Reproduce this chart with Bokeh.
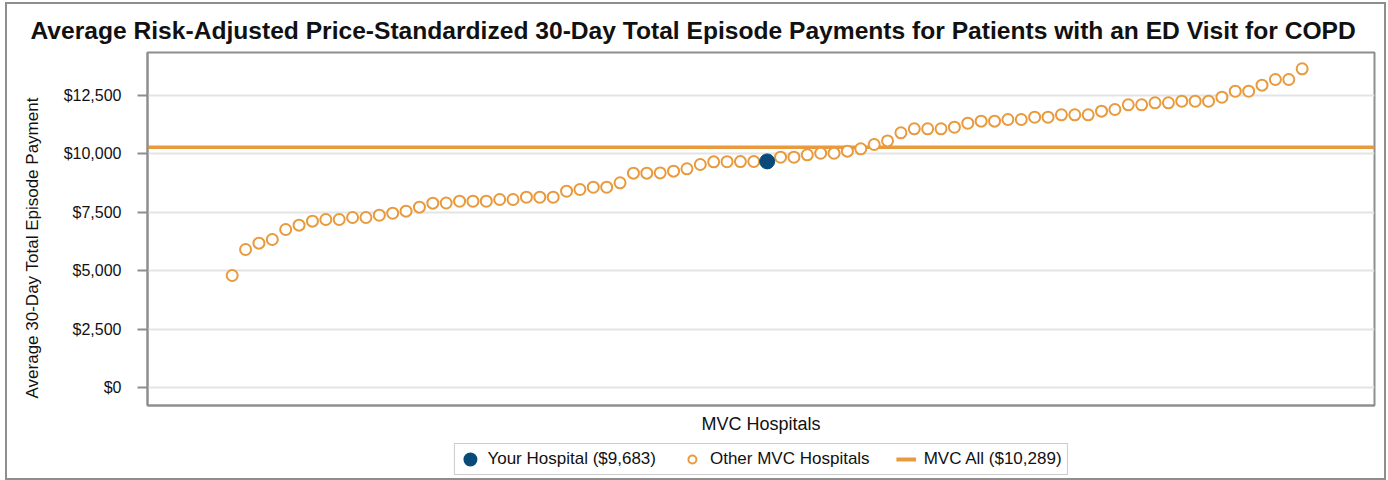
from bokeh.plotting import figure
from bokeh.layouts import column
from bokeh.models import Range1d, FixedTicker, NumeralTickFormatter, Legend, LegendItem
from bokeh.embed import file_html
from bokeh.resources import INLINE

title_text = ("Average Risk-Adjusted Price-Standardized 30-Day Total Episode Payments "
              "for Patients with an ED Visit for COPD")
y_axis_title = "Average 30-Day Total Episode Payment"
x_axis_title = "MVC Hospitals"
your_hospital_label = "Your Hospital ($9,683)"
other_label = "Other MVC Hospitals"
mvc_all_label = "MVC All ($10,289)"

# hospitals ranked 1..81 by payment; "your hospital" is rank 41
other_hospital_payments = [
    4803, 5915, 6185, 6343, 6771, 6955, 7126, 7198, 7198, 7284,
    7284, 7382, 7468, 7554, 7725, 7896, 7905, 7981, 7981, 7981,
    8054, 8054, 8152, 8152, 8152, 8409, 8482, 8580, 8580, 8768,
    9179, 9179, 9190, 9265, 9367, 9551, 9665, 9670, 9675, 9680,
    9863, 9863, 9966, 10034, 10034, 10120, 10222, 10406, 10560, 10907,
    11078, 11078, 11078, 11146, 11317, 11403, 11403, 11476, 11476, 11574,
    11574, 11677, 11677, 11677, 11831, 11903, 12104, 12104, 12190, 12190,
    12258, 12258, 12258, 12429, 12686, 12686, 12943, 13187, 13187, 13644,
]
your_hospital_payment = 9683
your_hospital_rank = 41
mvc_all_payment = 10289
y_ticks = [0, 2500, 5000, 7500, 10000, 12500]

n_hospitals = len(other_hospital_payments) + 1
other_ranks = [r for r in range(1, n_hospitals + 1) if r != your_hospital_rank]

ORANGE = "#E99A3C"
BLUE = "#0A4A78"
AXIS_GRAY = "#8e8e8e"
TEXT = "#111111"
FONT = "Liberation Sans"
W = 1377
NBSP = "\u00a0"

x_rng = Range1d(-5.333, 86.41)

# ---------------- main chart ----------------
p = figure(width=W, height=435, output_backend="svg", toolbar_location=None, tools="",
           x_range=x_rng, y_range=Range1d(-757, 14341),
           min_border_left=140, min_border_right=10, min_border_top=48, min_border_bottom=34)
p.background_fill_color = "white"
p.border_fill_color = "white"
p.outline_line_color = AXIS_GRAY
p.outline_line_width = 2

p.title.text = title_text
p.title.align = "left"
p.title.offset = -117
p.title.standoff = 18
p.title.text_font = FONT
p.title.text_font_size = "24.6px"
p.title.text_font_style = "bold"
p.title.text_color = TEXT

# y axis
p.yaxis.ticker = FixedTicker(ticks=y_ticks)
p.yaxis.formatter = NumeralTickFormatter(format="$0,0")
p.yaxis.major_label_text_font = FONT
p.yaxis.major_label_text_font_size = "16px"
p.yaxis.major_label_text_color = TEXT
p.yaxis.major_tick_out = 10
p.yaxis.major_tick_in = 0
p.yaxis.minor_tick_out = 0
p.yaxis.minor_tick_in = 0
p.yaxis.major_label_standoff = 16
p.yaxis.axis_line_color = AXIS_GRAY
p.yaxis.axis_line_width = 2
p.yaxis.major_tick_line_color = AXIS_GRAY
p.yaxis.major_tick_line_width = 2
p.yaxis.axis_label = y_axis_title + NBSP * 8
p.yaxis.axis_label_text_font = FONT
p.yaxis.axis_label_text_font_size = "17px"
p.yaxis.axis_label_text_font_style = "normal"
p.yaxis.axis_label_text_color = TEXT
p.yaxis.axis_label_standoff = 19

# x axis
p.xaxis.ticker = FixedTicker(ticks=[])
p.xaxis.major_tick_out = 0
p.xaxis.major_tick_in = 0
p.xaxis.minor_tick_out = 0
p.xaxis.minor_tick_in = 0
p.xaxis.major_label_standoff = 0
p.xaxis.axis_line_color = AXIS_GRAY
p.xaxis.axis_line_width = 2
p.xaxis.axis_label = x_axis_title
p.xaxis.axis_label_text_font = FONT
p.xaxis.axis_label_text_font_size = "18px"
p.xaxis.axis_label_text_font_style = "normal"
p.xaxis.axis_label_text_color = TEXT
p.xaxis.axis_label_standoff = 8

p.xgrid.visible = False
p.ygrid.ticker = FixedTicker(ticks=y_ticks)
p.ygrid.grid_line_color = "#e4e4e4"
p.ygrid.grid_line_width = 2

p.line(x=[x_rng.start, x_rng.end], y=[mvc_all_payment, mvc_all_payment],
       line_color=ORANGE, line_width=3.5)
p.scatter(x=other_ranks, y=other_hospital_payments, marker="circle", size=11,
          fill_color="white", line_color=ORANGE, line_width=2)
p.scatter(x=[your_hospital_rank], y=[your_hospital_payment], marker="circle", size=15,
          fill_color=BLUE, line_color=BLUE, line_width=1)

# ---------------- legend strip (same series, y window that holds no data) ----------------
lf = figure(width=W, height=39, output_backend="svg", toolbar_location=None, tools="",
            x_range=x_rng, y_range=Range1d(-2, -1),
            x_axis_location=None, y_axis_location=None,
            min_border_left=140, min_border_right=10, min_border_top=0, min_border_bottom=0)
lf.outline_line_color = None
lf.grid.visible = False
lf.background_fill_color = "white"
lf.border_fill_color = "white"

leg_yh = lf.scatter(x=[your_hospital_rank], y=[your_hospital_payment], marker="circle",
                    size=8, fill_color=BLUE, line_color=BLUE, line_width=6)
leg_other = lf.scatter(x=other_ranks, y=other_hospital_payments, marker="circle", size=8,
                       fill_color="white", line_color=ORANGE, line_width=2)
leg_all = lf.line(x=[x_rng.start, x_rng.end], y=[mvc_all_payment, mvc_all_payment],
                  line_color=ORANGE, line_width=4)

legend = Legend(items=[LegendItem(label=your_hospital_label, renderers=[leg_yh]),
                       LegendItem(label=other_label, renderers=[leg_other]),
                       LegendItem(label=mvc_all_label, renderers=[leg_all])],
                orientation="horizontal", location="top_center", margin=4, padding=5,
                spacing=26, glyph_width=20, glyph_height=20, label_height=20, label_standoff=8,
                label_text_font=FONT, label_text_font_size="17px", label_text_color=TEXT,
                border_line_color="#9a9a9a", border_line_width=1.5,
                background_fill_color="white", background_fill_alpha=1.0)
lf.add_layout(legend)

layout = column(p, lf, spacing=0)
layout.styles = {"border": "2px solid #8e8e8e", "margin": "2px 0px 0px 5px"}

open("out.html", "w").write(file_html(layout, INLINE))
